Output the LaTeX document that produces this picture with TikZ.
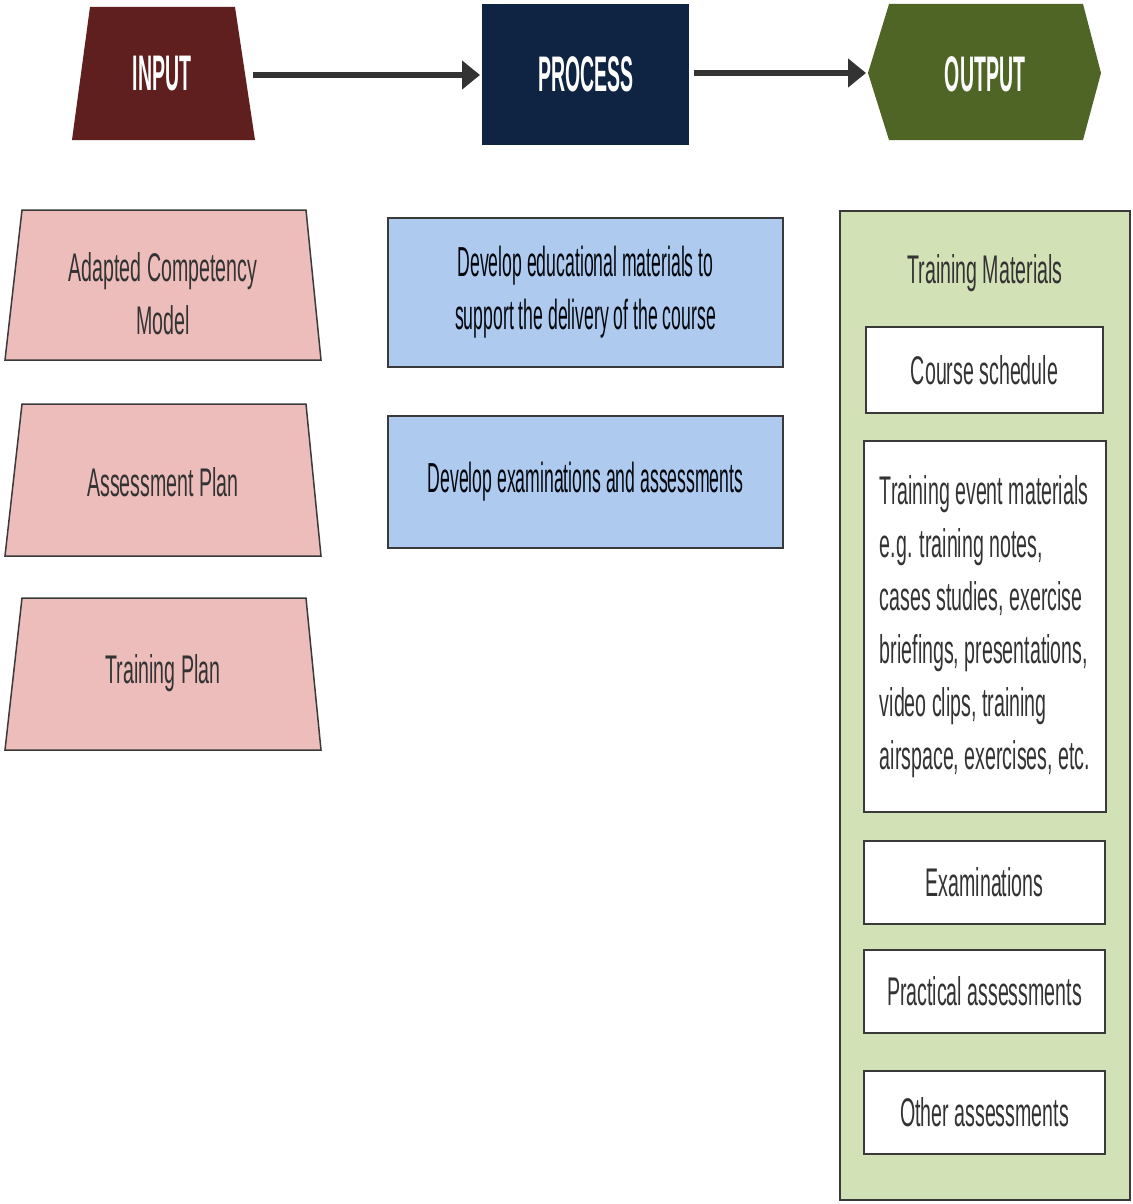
\documentclass[tikz,border=0pt]{standalone}
\usepackage{fontspec}
\setmainfont{Liberation Sans}[FakeStretch=0.49]
\newfontfamily\narrowfont{Liberation Sans}[FakeStretch=0.42]
\newfontfamily\headfont{Liberation Sans}[FakeStretch=0.39]
\usetikzlibrary{arrows.meta,calc}

\definecolor{inred}{HTML}{5E1F1E}
\definecolor{procblue}{HTML}{0F2442}
\definecolor{outgreen}{HTML}{4F6526}
\definecolor{pinkfill}{HTML}{EDBDBB}
\definecolor{bluefill}{HTML}{AECBEF}
\definecolor{greenfill}{HTML}{D3E1B6}
\definecolor{edgegray}{HTML}{3A3A3A}
\definecolor{txtgray}{HTML}{333333}
\definecolor{arrowgray}{HTML}{333333}

\begin{document}
\begin{tikzpicture}[x=1pt,y=-1pt,
  bodytext/.style={font=\fontsize{40}{53}\selectfont, text=txtgray, align=center, inner sep=0pt},
  headtext/.style={font=\headfont\bfseries\fontsize{50}{55}\selectfont, text=white, inner sep=0pt},
  frame/.style={inner sep=0pt, outer sep=0pt},
  boxline/.style={draw=edgegray, line width=1.5pt},
  whitebox/.style={boxline, fill=white, frame, bodytext},
  bluebox/.style={boxline, fill=bluefill, frame, bodytext, text=black!80!procblue,
    font=\narrowfont\fontsize{42}{53}\selectfont},
  conn/.style={draw=arrowgray, line width=6pt, -{Triangle[length=18pt,width=28pt]}}
]
\useasboundingbox (0,0) rectangle (1132,1204);

% ---------- header row ----------
\fill[inred] (90,7) -- (235,7) -- (255,140) -- (72,140) -- cycle;
\node[frame, minimum width=183pt, minimum height=133pt] (inhead) at (163.5,73.5) {};
\node[headtext] (intext) at (162,74) {INPUT};

\node[frame, fill=procblue, minimum width=207pt, minimum height=141pt] (prochead) at (585.5,74.5) {};
\node[headtext] (proctext) at (586,74) {PROCESS};

\fill[outgreen] (868,73) -- (889,4) -- (1083,4) -- (1101,73) -- (1083,140) -- (889,140) -- cycle;
\node[frame, minimum width=233pt, minimum height=136pt] (outhead) at (984.5,72) {};
\node[headtext] (outtext) at (985,74) {OUTPUT};

\draw[conn, shorten <=-2pt, shorten >=2pt] (inhead.east |- 0,75) -- (prochead.west |- 0,75);
\draw[conn, shorten <=5pt, shorten >=2pt] (prochead.east |- 0,73) -- (outhead.west |- 0,73);

% ---------- inputs ----------
\foreach \t/\b in {210/360, 404/556, 598/750}{
  \draw[boxline, fill=pinkfill] (22,\t) -- (306,\t) -- (321,\b) -- (5,\b) -- cycle;
}
\node[bodytext] (acm) at (163,294) {Adapted Competency\\Model};
\node[bodytext] (ap) at (163,482) {Assessment Plan};
\node[bodytext] (tp) at (163,673) {Training Plan};

% ---------- process steps ----------
\node[bluebox, minimum width=395pt, minimum height=149pt] (dev1) at (585.5,292.5)
  {Develop educational materials to\\support the delivery of the course};
\node[bluebox, minimum width=395pt, minimum height=132pt] (dev2) at (585.5,482)
  {Develop examinations and assessments};

% ---------- outputs ----------
\node[boxline, fill=greenfill, frame, minimum width=290pt, minimum height=989pt] (tm) at (985,705.5) {};
\node[bodytext] (tmtitle) at (985,273) {Training Materials};

\node[whitebox, minimum width=237pt, minimum height=86pt] (cs) at (984.5,370) {Course schedule};
\node[whitebox, minimum width=242pt, minimum height=371pt, align=left] (tem) at (985,626.5)
  {Training event materials\\e.g. training notes,\\cases studies, exercise\\briefings, presentations,\\video clips, training\\airspace, exercises, etc.};
\node[whitebox, minimum width=241pt, minimum height=83pt] (ex) at (984.5,882.5) {Examinations};
\node[whitebox, minimum width=241pt, minimum height=83pt] (pa) at (984.5,991.5) {Practical assessments};
\node[whitebox, minimum width=241pt, minimum height=83pt] (oa) at (984.5,1112.5) {Other assessments};
\end{tikzpicture}
\end{document}
